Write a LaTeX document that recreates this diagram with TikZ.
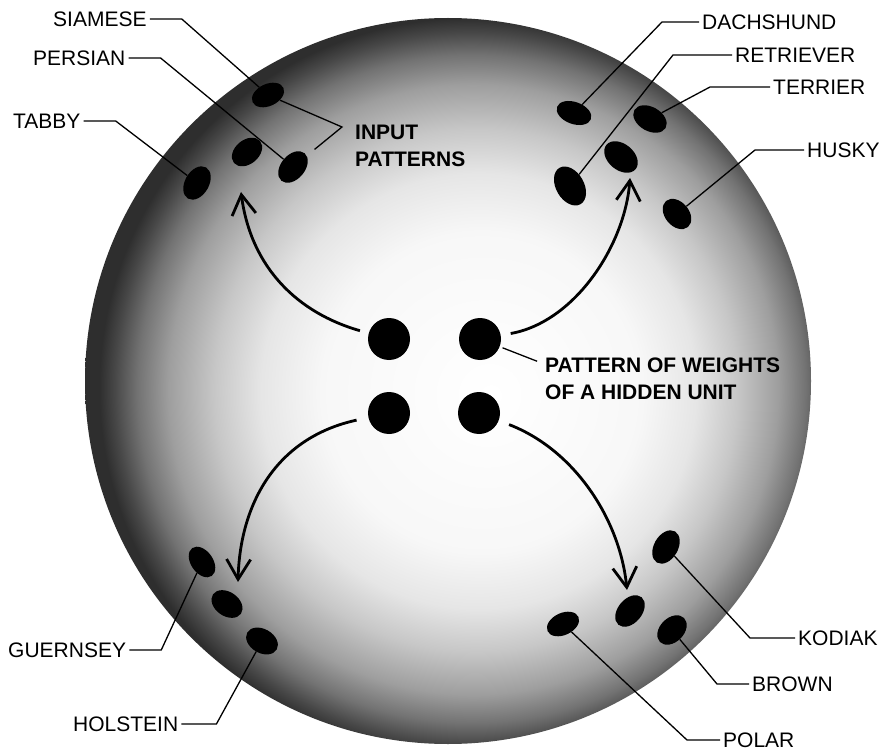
\documentclass[tikz,border=0pt]{standalone}
\usepackage{fontspec}
\setmainfont{Liberation Sans}
\usetikzlibrary{arrows.meta,shapes.geometric}
\pgfdeclareradialshading{sphereshade}{\pgfpoint{3bp}{-1bp}}{%
 color(0bp)=(white); color(11bp)=(black!3); color(15bp)=(black!10);
 color(18bp)=(black!22); color(21bp)=(black!38); color(23bp)=(black!55);
 color(24.5bp)=(black!72); color(25.5bp)=(black!82); color(50bp)=(black!82)}
\begin{document}
\begin{tikzpicture}[x=1pt,y=-1pt,
  lbl/.style={font=\fontsize{21}{25}\selectfont, inner sep=0pt, anchor=west},
  blbl/.style={font=\bfseries\fontsize{21}{26.5}\selectfont, inner sep=0pt, anchor=north west, align=left},
  pat/.style={ellipse, fill=black, inner sep=0pt},
  hid/.style={circle, fill=black, minimum size=42pt, inner sep=0pt},
  callout/.style={line width=1.3pt, shorten <=3pt},
  bigarrow/.style={line width=2.8pt, -{Straight Barb[length=20pt,width=24pt]}}]
\useasboundingbox[fill=white] (0,0) rectangle (889,754);
\shade[shading=sphereshade] (448,381) circle[radius=363];

% input patterns (ellipses)
\node[pat, minimum width=34pt, minimum height=22pt, rotate=25]  (esiam)  at (268,95)  {};
\node[pat, minimum width=34pt, minimum height=24pt, rotate=40]  (ecat)   at (247,152) {};
\node[pat, minimum width=36pt, minimum height=24pt, rotate=50]  (epers)  at (293,167) {};
\node[pat, minimum width=36pt, minimum height=24pt, rotate=60]  (etabby) at (197,183) {};
\node[pat, minimum width=36pt, minimum height=22pt, rotate=-20] (edach)  at (574,113) {};
\node[pat, minimum width=42pt, minimum height=28pt, rotate=-60] (eretr)  at (570,186) {};
\node[pat, minimum width=36pt, minimum height=24pt, rotate=-30] (eterr)  at (650,119) {};
\node[pat, minimum width=38pt, minimum height=26pt, rotate=-40] (edog)   at (621,157) {};
\node[pat, minimum width=34pt, minimum height=24pt, rotate=-50] (ehusky) at (677,214) {};
\node[pat, minimum width=34pt, minimum height=22pt, rotate=-55] (eguern) at (202,562) {};
\node[pat, minimum width=34pt, minimum height=24pt, rotate=-35] (ecow)   at (227,604) {};
\node[pat, minimum width=34pt, minimum height=24pt, rotate=-30] (eholst) at (262,641) {};
\node[pat, minimum width=36pt, minimum height=24pt, rotate=60]  (ekod)   at (666,547) {};
\node[pat, minimum width=36pt, minimum height=24pt, rotate=50]  (ebear)  at (630,611) {};
\node[pat, minimum width=34pt, minimum height=24pt, rotate=45]  (ebrown) at (672,630) {};
\node[pat, minimum width=34pt, minimum height=22pt, rotate=25]  (epolar) at (563,624) {};

% hidden unit weights
\node[hid] (h1) at (389,339) {};
\node[hid] (h2) at (480,339) {};
\node[hid] (h3) at (389,413) {};
\node[hid] (h4) at (479,413) {};

% labels
\node[lbl] (siamese) at (53,19)  {SIAMESE};
\node[lbl] (persian) at (33,58)  {PERSIAN};
\node[lbl] (tabby)   at (13,121) {TABBY};
\node[lbl] (dach)    at (702,22) {DACHSHUND};
\node[lbl] (retr)    at (735,55) {RETRIEVER};
\node[lbl] (terr)    at (773,87) {TERRIER};
\node[lbl] (husky)   at (807,150) {HUSKY};
\node[lbl] (guern)   at (8,650)  {GUERNSEY};
\node[lbl] (holst)   at (73,724) {HOLSTEIN};
\node[lbl] (kodiak)  at (798,638) {KODIAK};
\node[lbl] (brown)   at (752,684) {BROWN};
\node[lbl] (polar)   at (723,740) {POLAR};
\node[blbl] (input)  at (355,125) {INPUT\\PATTERNS};
\node[blbl] (hidlbl) at (545,358) {PATTERN OF WEIGHTS\\OF A HIDDEN UNIT};

% callout lines
\draw[callout] (siamese.east) -- ++(35,0) -- (esiam);
\draw[callout] (persian.east) -- ++(35,0) -- (epers);
\draw[callout] (tabby.east)   -- ++(35,0) -- (etabby);
\draw[callout] (dach.west)    -- ++(-40,0) -- (edach);
\draw[callout] (retr.west)    -- ++(-62,0) -- (eretr);
\draw[callout] (terr.west)    -- ++(-63,0) -- (eterr);
\draw[callout] (husky.west)   -- ++(-52,0) -- (ehusky);
\draw[callout] (guern.east)   -- ++(35,0) -- (eguern);
\draw[callout] (holst.east)   -- ++(38,0) -- (eholst);
\draw[callout] (kodiak.west)  -- ++(-48,0) -- (ekod);
\draw[callout] (brown.west)   -- ++(-35,0) -- (ebrown);
\draw[callout] (polar.west)   -- ++(-36,0) -- (epolar);

\coordinate (ipv) at (342,127);
\draw[line width=1.3pt, shorten >=10pt] (esiam) -- (ipv) -- (epers);
\draw[line width=1.3pt, shorten <=3pt, shorten >=2pt] (h2) -- ([shift={(-6,4)}]hidlbl.north west);

% arrows
\coordinate (t1) at (241,192);
\coordinate (t2) at (630,178);
\coordinate (t3) at (238,582);
\coordinate (t4) at (627,590);
\draw[bigarrow, shorten <=9pt]  (h1) .. controls (298,313) and (251,268) .. (t1);
\draw[bigarrow, shorten <=10pt] (h2) .. controls (575,322) and (625,245) .. (t2);
\draw[bigarrow, shorten <=12pt] (h3) .. controls (275,438) and (240,505) .. (t3);
\draw[bigarrow, shorten <=11pt] (h4) .. controls (575,450) and (620,520) .. (t4);
\end{tikzpicture}
\end{document}
